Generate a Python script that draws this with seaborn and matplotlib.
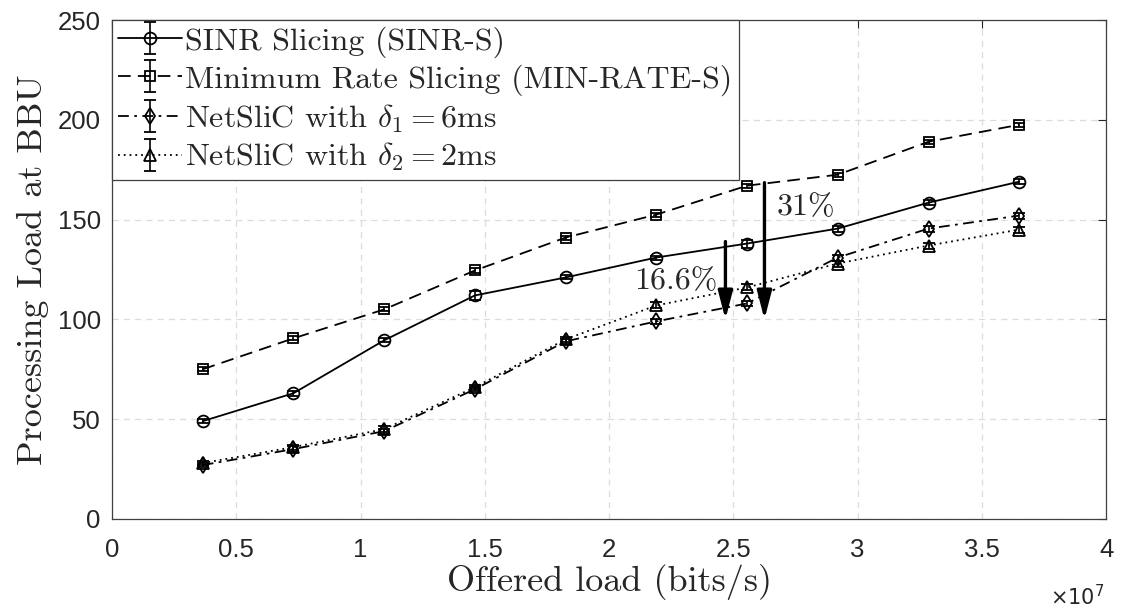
import numpy as np
import pandas as pd
import seaborn as sns
import matplotlib
matplotlib.use("Agg")
import matplotlib.pyplot as plt
from matplotlib.ticker import FuncFormatter
from matplotlib.legend_handler import HandlerTuple

# ---------------- data ----------------
offered_load = [3.65e6, 7.3e6, 1.095e7, 1.46e7, 1.825e7, 2.19e7, 2.555e7, 2.92e7, 3.285e7, 3.65e7]
sinr_s = [49, 63, 89.5, 112, 121, 131, 138, 145.5, 158.5, 169]
sinr_err = [1, 1.2, 1, 2.2, 1, 1, 2, 1.5, 1.2, 1.2]
minrate_s = [75, 90.5, 105, 124.5, 141, 152.5, 167, 172.5, 189, 197.5]
minrate_err = [1, 1, 1, 1.2, 1, 1, 1, 1, 1, 1]
netslic_d1 = [27, 35, 44, 65, 89, 99, 108, 131, 145.5, 152]
netslic_d1_err = [1, 1.5, 1.2, 1, 1.2, 1.2, 1.2, 1.5, 1.5, 1.5]
netslic_d2 = [28, 36, 45, 66, 90, 107, 116, 128, 137, 145]
netslic_d2_err = [1, 1.2, 1.5, 1, 1.2, 1.5, 1.5, 1.5, 1.5, 1.5]

labels = ["SINR Slicing (SINR-S)",
          "Minimum Rate Slicing (MIN-RATE-S)",
          r"NetSliC with $\delta_1 = 6$ms",
          r"NetSliC with $\delta_2 = 2$ms"]
y_ticks = [0, 50, 100, 150, 200, 250]
x_ticks = [0, 0.5e7, 1e7, 1.5e7, 2e7, 2.5e7, 3e7, 3.5e7, 4e7]
x_scale = 1e7

# annotations (arrow x, start y, end y) and texts
arrow_small = (2.468e7, 139, 100)
arrow_big = (2.625e7, 168.5, 100)
text_small = ("16.6%", 2.27e7, 119)
text_big = ("31%", 2.79e7, 156)

# ---------------- style ----------------
sns.set_theme(style="white")
plt.rcParams["font.family"] = ["Liberation Sans", "DejaVu Sans"]
plt.rcParams["mathtext.fontset"] = "cm"
serif = ["cmr10", "DejaVu Serif"]

fig = plt.figure(figsize=(11.24, 6.08), dpi=100)
ax = fig.add_axes([0.0996, 0.1464, 0.8846, 0.8207])

series = [
    (sinr_s, sinr_err, "o", "-", 8.5),
    (minrate_s, minrate_err, "s", (0, (7, 4)), 6.5),
    (netslic_d1, netslic_d1_err, "d", (0, (6, 3, 1.5, 3)), 8),
    (netslic_d2, netslic_d2_err, "^", (0, (1, 2.2)), 8.5),
]

handles = []
for (vals, err, mk, ls, ms), lab in zip(series, labels):
    df = pd.DataFrame({"x": offered_load, "y": vals})
    sns.lineplot(data=df, x="x", y="y", ax=ax, color="black", linewidth=1.3,
                 linestyle=ls, marker=mk, markersize=ms, markerfacecolor="none",
                 markeredgecolor="black", markeredgewidth=1.3, legend=False)
    line = ax.lines[-1]
    ec = ax.errorbar(offered_load, vals, yerr=err, fmt="none", ecolor="black",
                     elinewidth=1.2, capsize=4, capthick=1.3)
    handles.append((line, ec))

# arrows
for ax_x, y0, y1 in [arrow_small, arrow_big]:
    ax.annotate("", xy=(ax_x, y1), xytext=(ax_x, y0),
                arrowprops=dict(arrowstyle="-|>,head_length=0.85,head_width=0.22",
                                lw=2.4, color="black", mutation_scale=20,
                                shrinkA=0, shrinkB=0))
for txt, tx, ty in [text_small, text_big]:
    ax.text(tx, ty, txt, ha="center", va="center", fontsize=23, family=serif)

# axes
ax.set_xlim(0, 4e7)
ax.set_ylim(0, 250)
ax.set_xticks(x_ticks)
ax.set_yticks(y_ticks)
ax.xaxis.set_major_formatter(FuncFormatter(lambda v, p: f"{v / x_scale:g}"))
ax.text(0.998, -0.13, r"$\times10^{7}$", transform=ax.transAxes, ha="right", va="top",
        fontsize=15, math_fontfamily="dejavusans", color="#262626")

ax.grid(True, linestyle=(0, (5, 4)), color="#dcdcdc", linewidth=0.9)
ax.tick_params(axis="both", which="both", direction="in", length=6, width=0.8,
               labelsize=18.5, top=True, right=True, colors="#262626",
               labelcolor="#262626")
ax.tick_params(axis="x", pad=14)
ax.tick_params(axis="y", pad=8)
for sp in ax.spines.values():
    sp.set_visible(True)
    sp.set_color("#404040")
    sp.set_linewidth(0.9)

ax.set_xlabel("Offered load (bits/s)", fontsize=26, family=serif, labelpad=1)
ax.set_ylabel("Processing Load at BBU", fontsize=26, family=serif, labelpad=6)

leg = ax.legend(handles, labels, loc="upper left", bbox_to_anchor=(0, 1),
                borderaxespad=0, frameon=True, fancybox=False, edgecolor="#404040",
                prop={"family": serif, "size": 23}, handlelength=2.0,
                handletextpad=0.1, labelspacing=0.2, borderpad=0.2,
                handler_map={tuple: HandlerTuple(ndivide=1)})
leg.get_frame().set_linewidth(0.9)
leg.get_frame().set_alpha(1)

fig.savefig("out.png", dpi=100)
